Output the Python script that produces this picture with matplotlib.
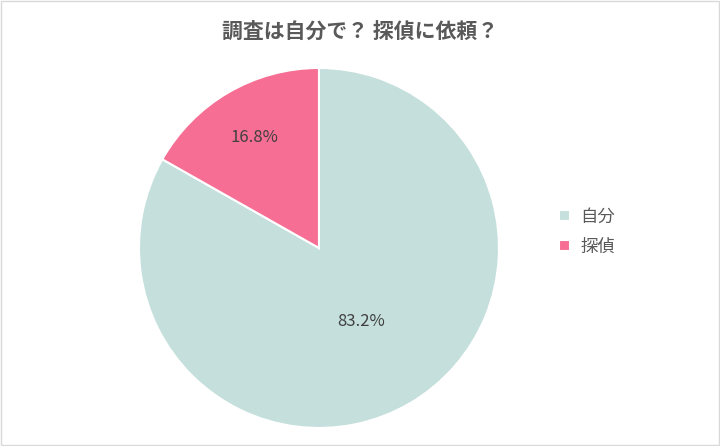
import matplotlib
matplotlib.use("Agg")
import matplotlib.pyplot as plt
import numpy as np

plt.rcParams['font.family'] = ['Noto Sans CJK JP', 'DejaVu Sans']

labels = ['自分', '探偵']
values = [83.2, 16.8]
colors = ['#C5E0DC', '#F66E94']
title = '調査は自分で？ 探偵に依頼？'

fig = plt.figure(figsize=(7.2, 4.46), dpi=100)
ax = fig.add_axes([0.443 - 0.25, 0.444 - 0.4036, 0.5, 0.8072])
wedges, texts, autotexts = ax.pie(values, colors=colors, startangle=90, counterclock=False,
                                  autopct='%.1f%%', wedgeprops=dict(edgecolor='white', linewidth=1.5),
                                  textprops=dict(fontsize=12, color='#404040'))
dists = [0.47, 0.71]
for w, t, d in zip(wedges, autotexts, dists):
    ang = np.deg2rad((w.theta1 + w.theta2) / 2)
    t.set_position((d * np.cos(ang), d * np.sin(ang)))
ax.set_xlim(-1.0, 1.0)
ax.set_ylim(-1.0, 1.0)
ax.set_aspect('equal')

fig.text(0.5, 0.93, title, ha='center', va='center', fontsize=15, fontweight='bold', color='#595959')
fig.legend(wedges, labels, loc='center left', bbox_to_anchor=(0.755, 0.48), frameon=False,
           fontsize=12.5, labelcolor='#595959', handlelength=0.6, handleheight=0.6,
           labelspacing=0.7, handletextpad=0.6)
fig.patches.append(plt.Rectangle((0.002, 0.002), 0.996, 0.996, transform=fig.transFigure,
                                 fill=False, edgecolor='#D9D9D9', linewidth=1))
fig.savefig('out.png', dpi=100)
